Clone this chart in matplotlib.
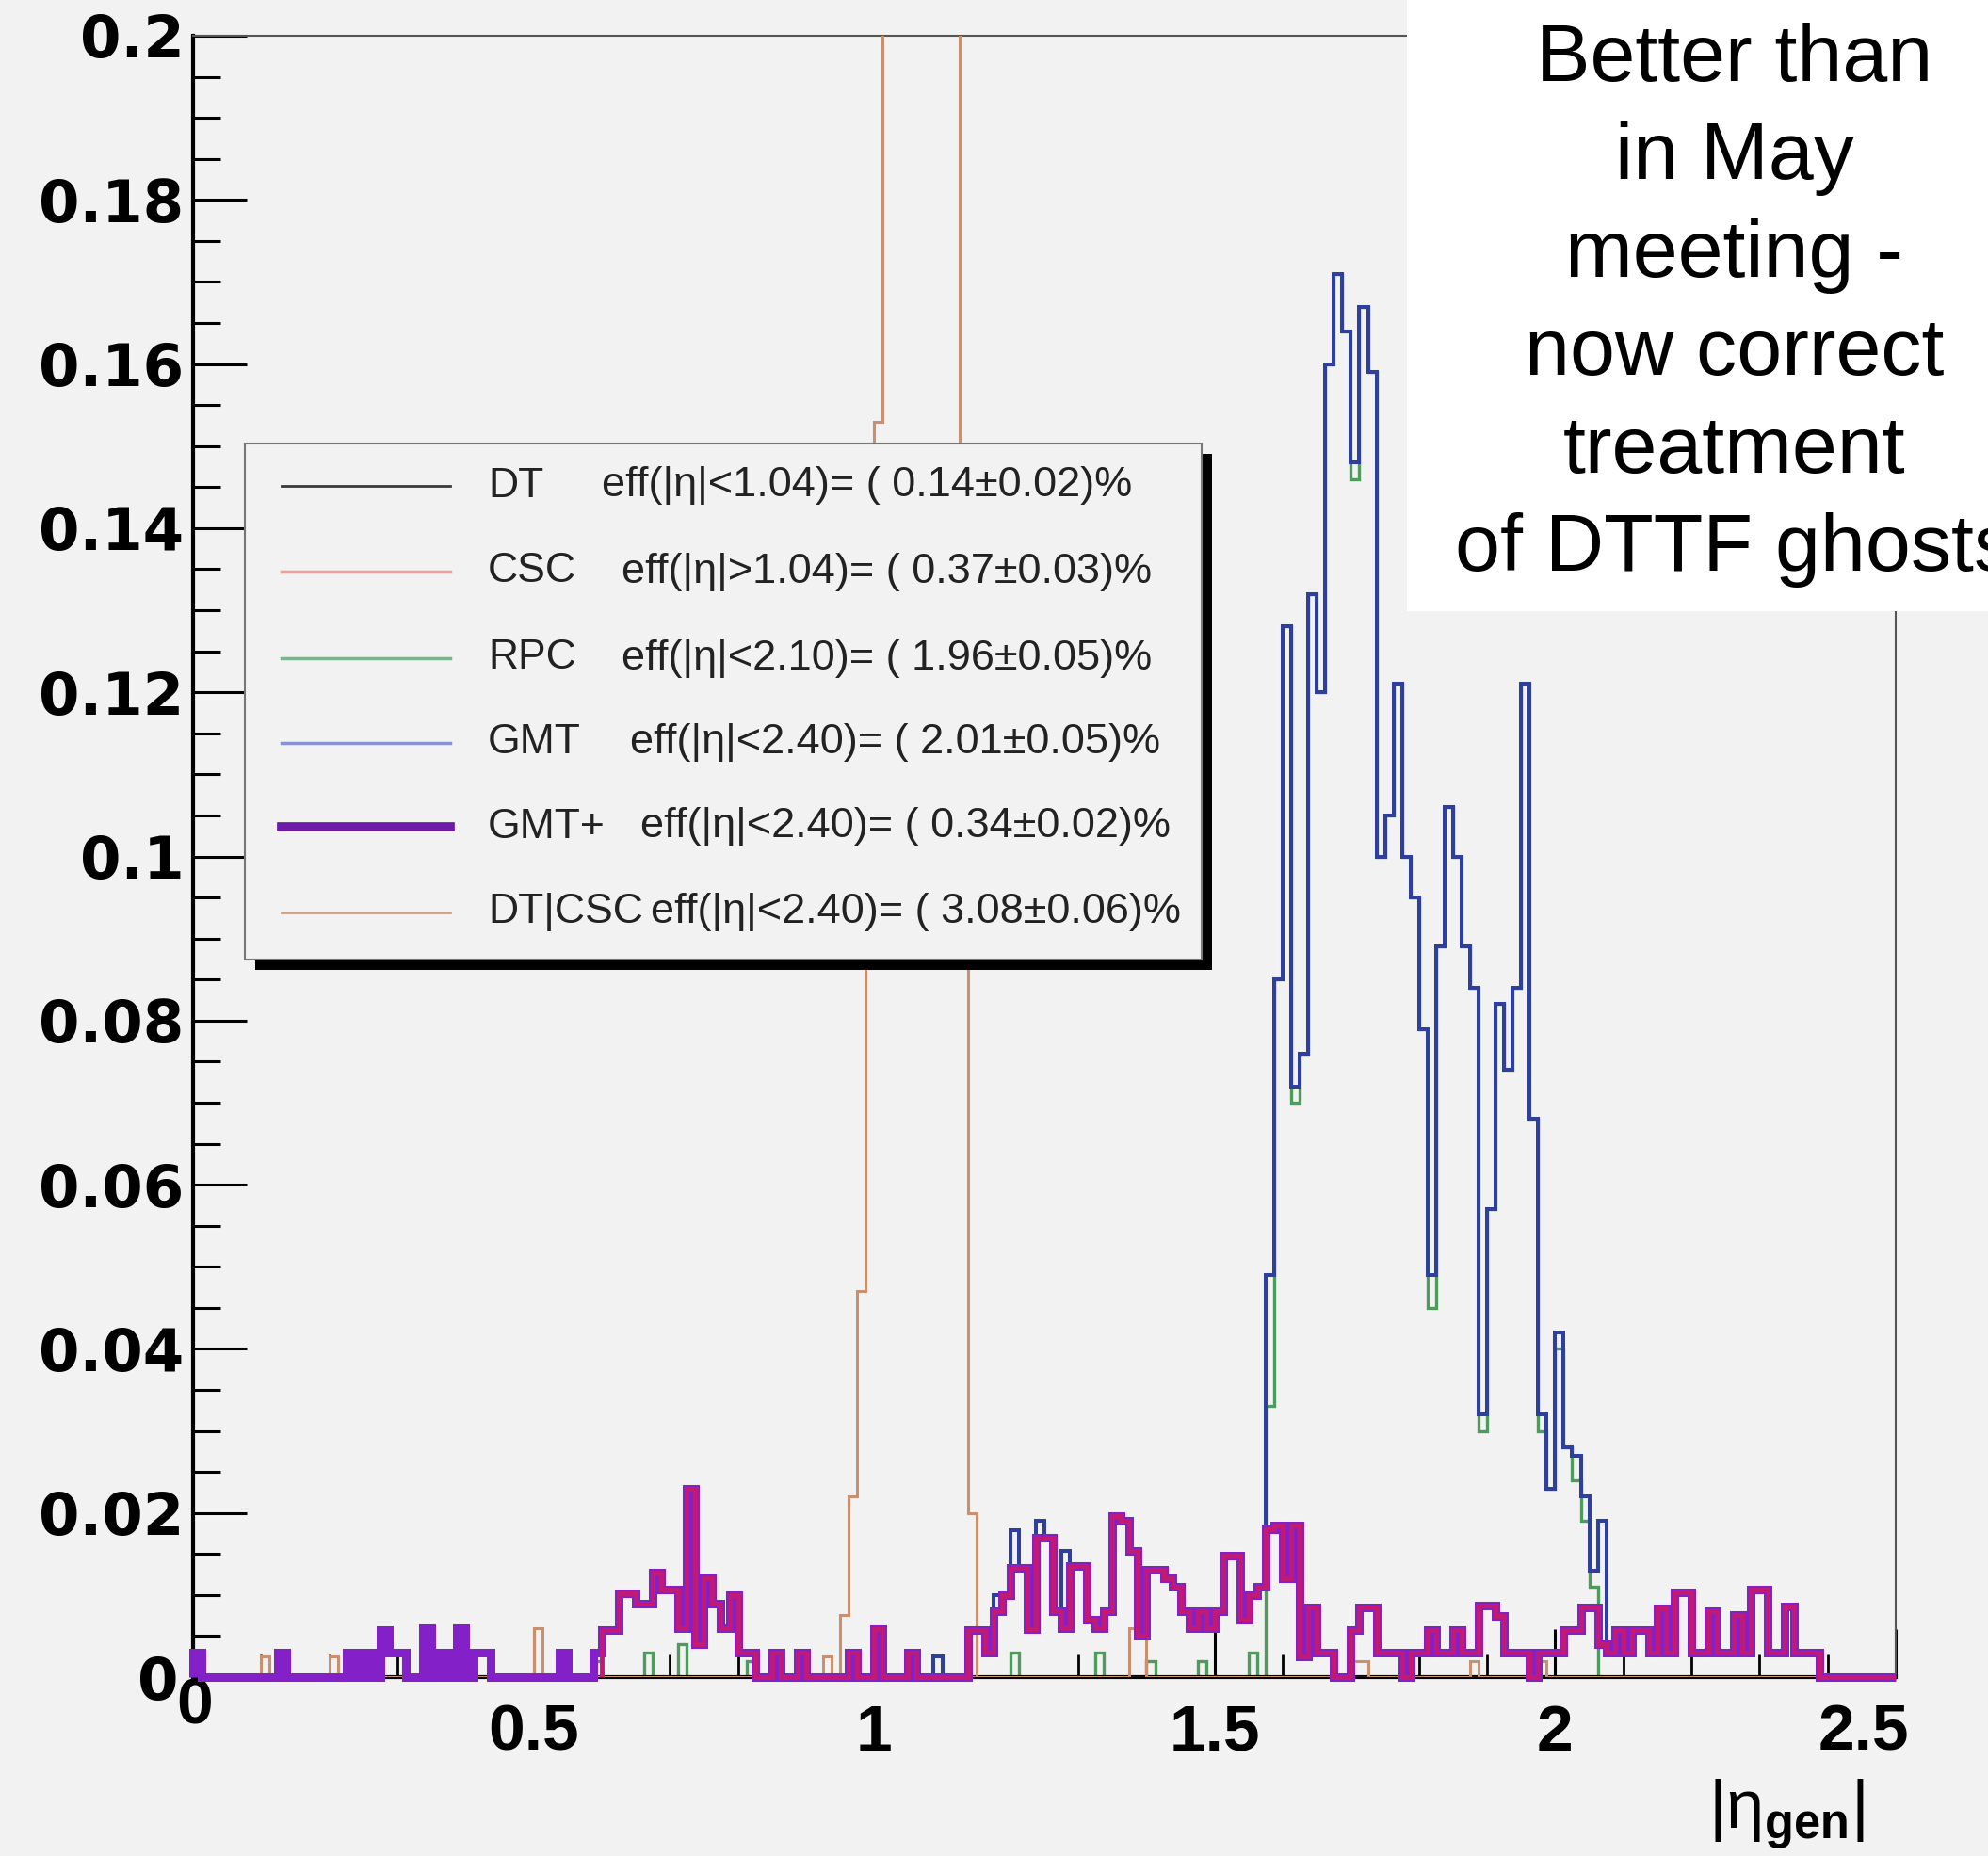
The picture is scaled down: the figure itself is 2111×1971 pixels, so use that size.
import numpy as np
import matplotlib
matplotlib.use('Agg')
import matplotlib.pyplot as plt
from matplotlib.patches import Rectangle
from matplotlib.lines import Line2D
from matplotlib.transforms import ScaledTranslation

plt.rcParams['font.family'] = ['Liberation Sans', 'DejaVu Sans']
plt.rcParams['mathtext.fontset'] = 'custom'
plt.rcParams['mathtext.rm'] = 'Liberation Sans'
plt.rcParams['mathtext.bf'] = 'Liberation Sans:bold'

# 200 bins of |eta| between 0 and 2.5
eta_edges = np.linspace(0.0, 2.5, 201)

dt = [
    0, 0, 0, 0, 0, 0, 0, 0, .0025, 0, 0, 0, 0, 0, 0, 0, .0025, 0, 0, 0,
    0, 0, 0, 0, 0, 0, 0, 0, 0, 0, 0, 0, 0, 0, 0, 0, 0, 0, 0, 0,
    .006, 0, 0, 0, 0, 0, 0, 0, 0, 0, 0, 0, 0, 0, 0, 0, 0, 0, 0, 0,
    0, 0, 0, 0, 0, 0, 0, 0, 0, 0, 0, 0, 0, 0, 0, 0, 0, 0, 0, 0,
    0, 0, 0, 0, 0, 0, 0, 0, 0, 0, 0, 0, 0, 0, 0, 0, 0, 0, 0, 0,
    0, 0, 0, 0, 0, 0, 0, 0, 0, 0, 0, 0, 0, 0, 0, 0, 0, 0, 0, 0,
    0, 0, 0, 0, 0, 0, 0, 0, 0, 0, 0, 0, 0, 0, 0, 0, 0, 0, 0, 0,
    0, 0, 0, 0, 0, 0, 0, 0, 0, 0, 0, 0, 0, 0, 0, 0, 0, 0, 0, 0,
    0, 0, 0, 0, 0, 0, 0, 0, 0, 0, 0, 0, 0, 0, 0, 0, 0, 0, 0, 0,
    0, 0, 0, 0, 0, 0, 0, 0, 0, 0, 0, 0, 0, 0, 0, 0, 0, 0, 0, 0,
]

csc = [
    0, 0, 0, 0, 0, 0, 0, 0, 0, 0, 0, 0, 0, 0, 0, 0, 0, 0, 0, 0,
    0, 0, 0, 0, 0, 0, 0, 0, 0, 0, 0, 0, 0, 0, 0, 0, 0, 0, 0, 0,
    0, 0, 0, 0, 0, 0, 0, 0, 0, 0, 0, 0, 0, 0, 0, 0, 0, 0, 0, 0,
    0, 0, 0, 0, 0, 0, 0, 0, 0, 0, 0, 0, 0, 0, 0, 0, 0, 0, 0, 0,
    0, 0, 0, 0, 0, 0, 0, 0, 0, 0, 0, 0, 0, 0, 0, 0, 0, 0, 0, 0,
    0, 0, 0, 0, 0, 0, 0, 0, 0, 0, .006, .006, 0, 0, 0, 0, 0, 0, 0, 0,
    0, 0, 0, 0, 0, 0, 0, 0, 0, 0, 0, 0, 0, 0, 0, 0, .002, .002, 0, 0,
    0, 0, 0, 0, 0, 0, 0, 0, 0, 0, .002, 0, 0, 0, 0, 0, 0, 0, .002, 0,
    0, 0, 0, 0, 0, 0, 0, 0, 0, 0, 0, 0, 0, 0, 0, 0, 0, 0, 0, 0,
    0, 0, 0, 0, 0, 0, 0, 0, 0, 0, 0, 0, 0, 0, 0, 0, 0, 0, 0, 0,
]

rpc = [
    0, 0, 0, 0, 0, 0, 0, 0, 0, 0, 0, 0, 0, 0, 0, 0, 0, 0, 0, 0,
    0, 0, 0, 0, 0, 0, 0, 0, 0, 0, 0, 0, 0, 0, 0, 0, 0, 0, 0, 0,
    0, 0, 0, 0, 0, 0, 0, .002, 0, 0, 0, 0, 0, .003, 0, 0, 0, .004, 0, 0,
    0, 0, 0, 0, 0, .002, 0, 0, 0, 0, 0, 0, 0, 0, 0, 0, 0, 0, 0, 0,
    0, 0, 0, 0, 0, 0, 0, 0, 0, 0, 0, 0, 0, 0, 0, 0, .003, 0, 0, 0,
    0, 0, 0, 0, 0, 0, .003, 0, 0, 0, 0, 0, .002, 0, 0, 0, 0, 0, .002, 0,
    0, 0, 0, 0, .003, 0, .033, .085, .128, .070, .076, .132, .120, .160, .171, .164, .146, .167, .159, .100,
    .105, .121, .100, .095, .079, .045, .089, .106, .100, .089, .084, .030, .057, .082, .074, .084, .121, .068, .030, .023,
    .040, .028, .024, .019, .011, 0, 0, 0, 0, 0, 0, 0, 0, 0, 0, 0, 0, 0, 0, 0,
    0, 0, 0, 0, 0, 0, 0, 0, 0, 0, 0, 0, 0, 0, 0, 0, 0, 0, 0, 0,
]

gmt = [
    .003, 0, 0, 0, 0, 0, 0, 0, 0, 0, .003, 0, 0, 0, 0, 0, 0, 0, .003, 0,
    .003, 0, .0057, .003, .003, 0, 0, .006, 0, .003, 0, .006, 0, .003, .003, 0, 0, 0, 0, 0,
    0, 0, 0, .003, 0, 0, 0, .003, .0057, .0057, .0102, .0102, .009, .009, .0127, .0107, .0107, .006, .023, .004,
    .012, .009, .006, .010, .003, .003, 0, 0, .003, 0, 0, .003, 0, 0, 0, 0, 0, .003, 0, 0,
    .0058, 0, 0, 0, .003, 0, 0, .0025, 0, 0, 0, .0057, .0057, .003, .010, .010, .0179, .0133, .0058, .019,
    .017, .008, .0154, .0135, .0135, .007, .006, .008, .0196, .019, .0154, .005, .0131, .0131, .012, .011, .008, .006, .008, .006,
    .008, .0148, .0148, .007, .010, .011, .049, .085, .128, .072, .076, .132, .120, .160, .171, .164, .148, .167, .159, .100,
    .105, .121, .100, .095, .079, .049, .089, .106, .100, .089, .084, .032, .057, .082, .074, .084, .121, .068, .032, .023,
    .042, .028, .027, .022, .013, .019, .003, .0057, .003, .0057, .0057, .003, .0084, .003, .0103, .0103, .003, .003, .008, .003,
    .003, .0076, .003, .0107, .0107, .003, .003, .0086, .003, .003, .003, 0, 0, 0, 0, 0, 0, 0, 0, 0,
]

gmt_plus = [
    .003, 0, 0, 0, 0, 0, 0, 0, 0, 0, .003, 0, 0, 0, 0, 0, 0, 0, .003, 0,
    .003, 0, .0057, .003, .003, 0, 0, .006, 0, .003, 0, .006, 0, .003, .003, 0, 0, 0, 0, 0,
    0, 0, 0, .003, 0, 0, 0, .003, .0057, .0057, .0102, .0102, .009, .009, .0127, .0107, .0107, .006, .023, .004,
    .012, .009, .006, .010, .003, .003, 0, 0, .003, 0, 0, .003, 0, 0, 0, 0, 0, .003, 0, 0,
    .0058, 0, 0, 0, .003, 0, 0, 0, 0, 0, 0, .0057, .0057, .003, .008, .010, .0133, .0133, .0058, .017,
    .017, .008, .006, .0135, .0135, .007, .006, .008, .0196, .019, .0154, .005, .0131, .0131, .012, .011, .008, .006, .008, .006,
    .008, .0148, .0148, .007, .010, .011, .018, .0185, .012, .0185, .0025, .0085, .003, .003, 0, 0, .0057, .0085, .0085, .003,
    .003, .003, 0, .003, .003, .0057, .003, .003, .0057, .003, .003, .0087, .0087, .0075, .003, .003, .003, 0, .003, .003,
    .003, .0057, .0057, .0085, .0085, .004, .003, .0057, .003, .0057, .0057, .003, .0084, .003, .0103, .0103, .003, .003, .008, .003,
    .003, .0076, .003, .0107, .0107, .003, .003, .0086, .003, .003, .003, 0, 0, 0, 0, 0, 0, 0, 0, 0,
]

# DT|CSC, bins 81-89 run off the top of the frame
dt_or_csc = [
    0, 0, 0, 0, 0, 0, 0, 0, .0025, 0, 0, 0, 0, 0, 0, 0, .0025, 0, 0, 0,
    0, 0, 0, 0, 0, 0, 0, 0, 0, 0, 0, 0, 0, 0, 0, 0, 0, 0, 0, 0,
    .006, 0, 0, 0, 0, 0, 0, 0, 0, 0, 0, 0, 0, 0, 0, 0, 0, 0, 0, 0,
    0, 0, 0, 0, 0, 0, 0, 0, 0, 0, 0, 0, 0, 0, .0025, 0, .0076, .022, .047, .093,
    .153, .25, .25, .25, .25, .25, .25, .25, .25, .25, .088, .020, 0, 0, 0, 0, 0, 0, 0, 0,
    0, 0, 0, 0, 0, 0, 0, 0, 0, 0, .006, .006, 0, 0, 0, 0, 0, 0, 0, 0,
    0, 0, 0, 0, 0, 0, 0, 0, 0, 0, 0, 0, 0, 0, 0, 0, .002, .002, 0, 0,
    0, 0, 0, 0, 0, 0, 0, 0, 0, 0, .002, 0, 0, 0, 0, 0, 0, 0, .002, 0,
    0, 0, 0, 0, 0, 0, 0, 0, 0, 0, 0, 0, 0, 0, 0, 0, 0, 0, 0, 0,
    0, 0, 0, 0, 0, 0, 0, 0, 0, 0, 0, 0, 0, 0, 0, 0, 0, 0, 0, 0,
]

legend_names = ['DT', 'CSC', 'RPC', 'GMT', 'GMT+', 'DT|CSC']
legend_effs = ['eff(|η|<1.04)= ( 0.14±0.02)%', 'eff(|η|>1.04)= ( 0.37±0.03)%',
               'eff(|η|<2.10)= ( 1.96±0.05)%', 'eff(|η|<2.40)= ( 2.01±0.05)%',
               'eff(|η|<2.40)= ( 0.34±0.02)%', 'eff(|η|<2.40)= ( 3.08±0.06)%']
note_lines = ['Better than', 'in May', 'meeting -', 'now correct', 'treatment', 'of DTTF ghosts']

W, H = 2111, 1971
BG = '#f2f2f2'
fig = plt.figure(figsize=(W / 100, H / 100), dpi=100)
fig.patch.set_facecolor(BG)

ax = fig.add_axes([205 / W, 1 - 1781 / H, 1808 / W, (1781 - 38) / H])
ax.set_facecolor(BG)

ax.stairs(rpc, eta_edges, color='#4f9a5c', lw=2.4, zorder=2)
ax.stairs(gmt, eta_edges, color='#2f3f9e', lw=2.9, zorder=3)
ax.stairs(dt, eta_edges, color='#202020', lw=2, zorder=3)
ax.stairs(csc, eta_edges, color='#e07a7a', lw=2, zorder=3)
ax.stairs(dt_or_csc, eta_edges, color='#c99070', lw=2.2, zorder=4)
ax.stairs(gmt_plus, eta_edges, color='#8420c8', lw=6.5, zorder=5, clip_on=False)
ax.stairs(gmt_plus[48:], eta_edges[48:], color='#c21a74', lw=3.5, zorder=6, clip_on=False)

ax.set_xlim(0, 2.5)
ax.set_ylim(0, 0.2)

yt = np.arange(0, 0.2001, 0.02)
ax.set_yticks(yt)
ax.set_yticklabels(['0', '0.02', '0.04', '0.06', '0.08', '0.1', '0.12', '0.14', '0.16', '0.18', '0.2'])
ax.set_yticks(np.arange(0, 0.2001, 0.005), minor=True)
ax.set_xticks([0, 0.5, 1, 1.5, 2, 2.5])
ax.set_xticklabels(['0', '0.5', '1', '1.5', '2', '2.5'])
ax.set_xticks(np.arange(0, 2.501, 0.1), minor=True)

ax.tick_params(axis='y', which='major', direction='in', length=41, width=2.2, pad=7, labelsize=45)
ax.tick_params(axis='y', which='minor', direction='in', length=21, width=2.2)
ax.tick_params(axis='x', which='major', direction='in', length=37, width=2.2, pad=20, labelsize=50)
ax.tick_params(axis='x', which='minor', direction='in', length=17, width=2)
for lbl in ax.get_xticklabels():
    lbl.set_fontweight('bold')
for lbl in ax.get_yticklabels():
    lbl.set_fontweight('bold')
    lbl.set_family('DejaVu Sans')

xl = ax.get_xticklabels()
xl[0].set_transform(xl[0].get_transform() + ScaledTranslation(0.02, 0.28, fig.dpi_scale_trans))
xl[-1].set_transform(xl[-1].get_transform() + ScaledTranslation(-0.34, 0, fig.dpi_scale_trans))
yl = ax.get_yticklabels()
yl[0].set_transform(yl[0].get_transform() + ScaledTranslation(-0.06, 0, fig.dpi_scale_trans))

for s in ['left', 'bottom']:
    ax.spines[s].set_linewidth(3)
    ax.spines[s].set_color('black')
for s in ['top', 'right']:
    ax.spines[s].set_linewidth(1.5)
    ax.spines[s].set_color('#555555')


def box(x0, y0, x1, y1, **kw):
    # rectangle given in figure pixels, origin at top left
    r = Rectangle((x0 / W, 1 - y1 / H), (x1 - x0) / W, (y1 - y0) / H,
                  transform=fig.transFigure, **kw)
    fig.add_artist(r)
    return r


# legend with ROOT style drop shadow
box(271, 482, 1287, 1030, facecolor='black', edgecolor='none', zorder=3)
box(260, 471, 1276, 1019, facecolor=BG, edgecolor='#777777', lw=1.5, zorder=3.1)

leg_colors = ['#3a3a3a', '#e0a4a4', '#7cb28e', '#8a92d6', '#6c1aa8', '#c9a28a']
leg_widths = [2, 2.5, 2.5, 2.5, 7, 2]
row_y = [516, 607, 699, 789, 878, 969]
eff_x = [639, 660, 660, 669, 680, 691]
for name, eff, c, lw, y, ex in zip(legend_names, legend_effs, leg_colors, leg_widths, row_y, eff_x):
    fig.add_artist(Line2D([299 / W, 478 / W], [1 - y / H, 1 - y / H], color=c, lw=lw,
                          transform=fig.transFigure, zorder=3.2))
    fig.text(518 / W, 1 - y / H, name, fontsize=32, color='#222222', va='center', zorder=3.3)
    fig.text(ex / W, 1 - y / H, eff, fontsize=32.5, color='#222222', va='center', zorder=3.3)

# white note box in the top right corner
box(1494, -5, 2120, 649, facecolor='white', edgecolor='none', zorder=5)
for line, yb in zip(note_lines, [86, 190, 294, 398, 502, 606]):
    fig.text(1842 / W, 1 - yb / H, line, fontsize=62, ha='center', va='baseline',
             color='black', zorder=6)

fig.text(1897 / W, 1 - 1927 / H, r'$|\mathrm{η}_{\mathbf{gen}}|$', fontsize=52,
         ha='center', va='center', color='black')

fig.savefig('out.png', dpi=100, facecolor=BG)
